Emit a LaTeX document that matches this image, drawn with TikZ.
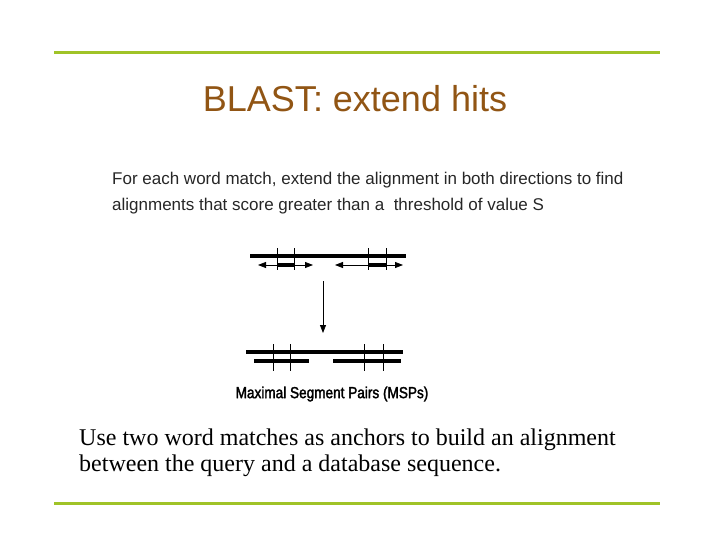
\documentclass[tikz,border=0pt]{standalone}
\usepackage{fontspec}
\setmainfont{Liberation Serif}
\newfontfamily\sansf{Liberation Sans}
\newfontfamily\narrowf{Liberation Sans}[FakeBold=2,FakeStretch=0.85]
\usetikzlibrary{arrows.meta}
\definecolor{rule}{RGB}{160,195,40}
\definecolor{titlec}{RGB}{145,85,20}
\begin{document}
\begin{tikzpicture}[x=1pt,y=-1pt,
  thickbar/.style={line width=4pt},
  tick/.style={line width=0.8pt},
  arr/.style={line width=0.8pt,-{Triangle[length=8pt,width=6pt]}}]
\useasboundingbox (0,0) rectangle (720,540);
\draw[rule,line width=3pt] (54,53) -- (660,53);
\draw[rule,line width=3pt] (54,503) -- (660,503);
\node[titlec,font=\sansf\fontsize{36}{40}\selectfont] (title) at (355,99) {BLAST: extend hits};
\node[anchor=west,align=left,font=\sansf\fontsize{17}{26}\selectfont,inner sep=0,color=black!85] (desc) at (112,193)
 {For each word match, extend the alignment in both directions to find\\alignments that score greater than a\ \ threshold of value S};
% top
\draw[thickbar] (250,256) -- (406,256);
\foreach \x in {277,294,368,386}{\draw[tick] (\x,248) -- (\x,270);}
\coordinate (l0) at (277,265); \coordinate (l1) at (294,265);
\coordinate (la) at (258,265); \coordinate (lb) at (313,265);
\draw[arr] (l0) -- (la); \draw[arr] (l1) -- (lb);
\draw[thickbar] (l0) -- (l1);
\coordinate (r0) at (368,265); \coordinate (r1) at (386,265);
\coordinate (ra) at (335,265); \coordinate (rb) at (403,265);
\draw[arr] (r0) -- (ra); \draw[arr] (r1) -- (rb);
\draw[thickbar] (r0) -- (r1);
\coordinate (d0) at (323,281); \coordinate (d1) at (323,333);
\draw[arr] (d0) -- (d1);
% bottom
\draw[thickbar] (246,352) -- (403,352);
\draw[thickbar] (254,361) -- (309,361);
\draw[thickbar] (333,361) -- (401,361);
\foreach \x in {273,290,364,383}{\draw[tick] (\x,344) -- (\x,371);}
\node[font=\narrowf\fontsize{16}{18}\selectfont] (msp) at (332,394) {Maximal Segment Pairs (MSPs)};
\node[anchor=west,align=left,font=\fontsize{24}{26}\selectfont,inner sep=0] (foot) at (79,453)
 {Use two word matches as anchors to build an alignment\\between the query and a database sequence.};
\end{tikzpicture}
\end{document}
